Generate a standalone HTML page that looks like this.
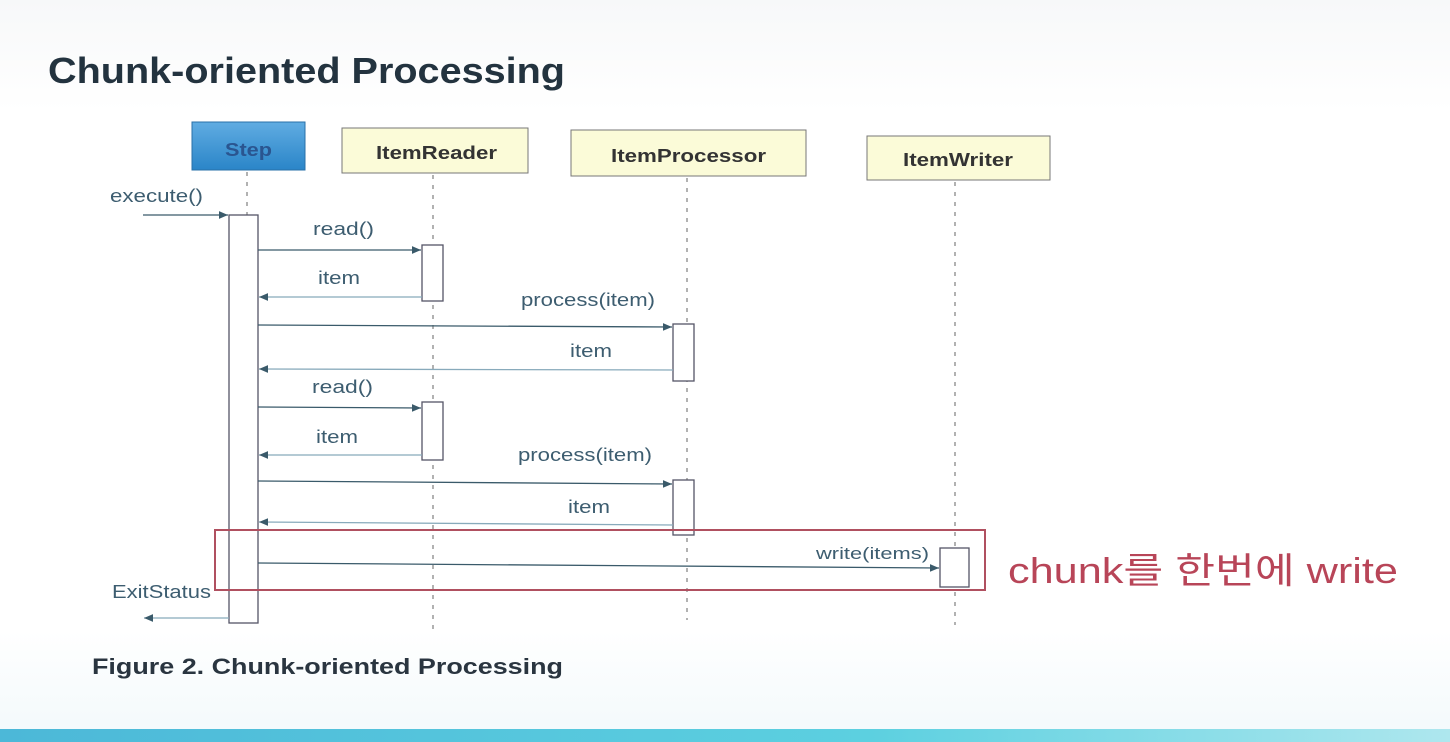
<!DOCTYPE html>
<html><head><meta charset="utf-8"><style>
html,body{margin:0;padding:0;background:#fff;}
svg{display:block;}
</style></head><body>
<svg width="1450" height="742" viewBox="0 0 1450 742" xmlns="http://www.w3.org/2000/svg">
<defs>
<linearGradient id="bg" x1="0" y1="0" x2="0" y2="1">
<stop offset="0" stop-color="#f7f8f9"/><stop offset="0.15" stop-color="#fff"/><stop offset="0.85" stop-color="#fff"/><stop offset="1" stop-color="#f2f9fb"/>
</linearGradient>
<linearGradient id="band" x1="0" y1="0" x2="1" y2="0">
<stop offset="0" stop-color="#4cb8d8"/><stop offset="0.6" stop-color="#5cd0e0"/><stop offset="1" stop-color="#aee7ee"/>
</linearGradient>
<linearGradient id="step" x1="0" y1="0" x2="0" y2="1">
<stop offset="0" stop-color="#60ace2"/><stop offset="1" stop-color="#2a85c8"/>
</linearGradient>
<marker id="ah" markerWidth="8" markerHeight="8" refX="7" refY="3" orient="auto"><path d="M0,0 L7,3 L0,6 z" fill="#3a5a6a"/></marker>
</defs>
<rect width="1450" height="742" fill="url(#bg)"/>
<rect x="0" y="729" width="1450" height="13" fill="url(#band)"/>
<text x="48" y="83" font-family="Liberation Sans, sans-serif" font-weight="bold" font-size="36" fill="#23333f" textLength="517" lengthAdjust="spacingAndGlyphs">Chunk-oriented Processing</text>

<g font-family="Liberation Sans, sans-serif" font-weight="bold" font-size="18" fill="#333">
<rect x="192" y="122" width="113" height="48" fill="url(#step)" stroke="#2a70a8"/>
<text x="225" y="156" fill="#2a5590" textLength="47" lengthAdjust="spacingAndGlyphs">Step</text>
<rect x="342" y="128" width="186" height="45" fill="#fbfbd8" stroke="#777"/>
<text x="376" y="159" textLength="121" lengthAdjust="spacingAndGlyphs">ItemReader</text>
<rect x="571" y="130" width="235" height="46" fill="#fbfbd8" stroke="#777"/>
<text x="611" y="162" textLength="155" lengthAdjust="spacingAndGlyphs">ItemProcessor</text>
<rect x="867" y="136" width="183" height="44" fill="#fbfbd8" stroke="#777"/>
<text x="903" y="166" textLength="110" lengthAdjust="spacingAndGlyphs">ItemWriter</text>
</g>

<g stroke="#999" stroke-width="1.5" stroke-dasharray="4,6">
<line x1="247" y1="172" x2="247" y2="215"/>
<line x1="433" y1="175" x2="433" y2="630"/>
<line x1="687" y1="178" x2="687" y2="620"/>
<line x1="955" y1="182" x2="955" y2="625"/>
</g>

<g fill="#fff" stroke="#556" stroke-width="1.3">
<rect x="229" y="215" width="29" height="408"/>
<rect x="422" y="245" width="21" height="56"/>
<rect x="673" y="324" width="21" height="57"/>
<rect x="422" y="402" width="21" height="58"/>
<rect x="673" y="480" width="21" height="55"/>
<rect x="940" y="548" width="29" height="39"/>
</g>

<rect x="215" y="530" width="770" height="60" fill="none" stroke="#b05060" stroke-width="2"/>

<g stroke="#3a5a6a" stroke-width="1.3" fill="none">
<line x1="143" y1="215" x2="228" y2="215" marker-end="url(#ah)"/>
<line x1="258" y1="250" x2="421" y2="250" marker-end="url(#ah)"/>
<line x1="422" y1="297" x2="259" y2="297" marker-end="url(#ah)" stroke="#8ab"/>
<line x1="258" y1="325" x2="672" y2="327" marker-end="url(#ah)"/>
<line x1="673" y1="370" x2="259" y2="369" marker-end="url(#ah)" stroke="#8ab"/>
<line x1="258" y1="407" x2="421" y2="408" marker-end="url(#ah)"/>
<line x1="422" y1="455" x2="259" y2="455" marker-end="url(#ah)" stroke="#8ab"/>
<line x1="258" y1="481" x2="672" y2="484" marker-end="url(#ah)"/>
<line x1="673" y1="525" x2="259" y2="522" marker-end="url(#ah)" stroke="#8ab"/>
<line x1="258" y1="563" x2="939" y2="568" marker-end="url(#ah)"/>
<line x1="229" y1="618" x2="144" y2="618" marker-end="url(#ah)" stroke="#8ab"/>
</g>

<g font-family="Liberation Sans, sans-serif" font-size="18" fill="#3d5d70" lengthAdjust="spacingAndGlyphs">
<text x="110" y="202" textLength="93" lengthAdjust="spacingAndGlyphs">execute()</text>
<text x="313" y="235" textLength="61" lengthAdjust="spacingAndGlyphs">read()</text>
<text x="318" y="284" textLength="42" lengthAdjust="spacingAndGlyphs">item</text>
<text x="521" y="306" textLength="134" lengthAdjust="spacingAndGlyphs">process(item)</text>
<text x="570" y="357" textLength="42" lengthAdjust="spacingAndGlyphs">item</text>
<text x="312" y="393" textLength="61" lengthAdjust="spacingAndGlyphs">read()</text>
<text x="316" y="443" textLength="42" lengthAdjust="spacingAndGlyphs">item</text>
<text x="518" y="461" textLength="134" lengthAdjust="spacingAndGlyphs">process(item)</text>
<text x="568" y="513" textLength="42" lengthAdjust="spacingAndGlyphs">item</text>
<text x="816" y="559" font-size="17" textLength="113" lengthAdjust="spacingAndGlyphs">write(items)</text>
<text x="112" y="598" textLength="99" lengthAdjust="spacingAndGlyphs">ExitStatus</text>
</g>

<text x="1008" y="583" font-family="Liberation Sans, 'Noto Sans CJK KR', sans-serif" font-size="36" fill="#b84558" textLength="390" lengthAdjust="spacingAndGlyphs">chunk를 한번에 write</text>

<text x="92" y="674" font-family="Liberation Sans, sans-serif" font-weight="bold" font-size="22" fill="#2a3540" textLength="471" lengthAdjust="spacingAndGlyphs">Figure 2. Chunk-oriented Processing</text>
</svg>
</body></html>
